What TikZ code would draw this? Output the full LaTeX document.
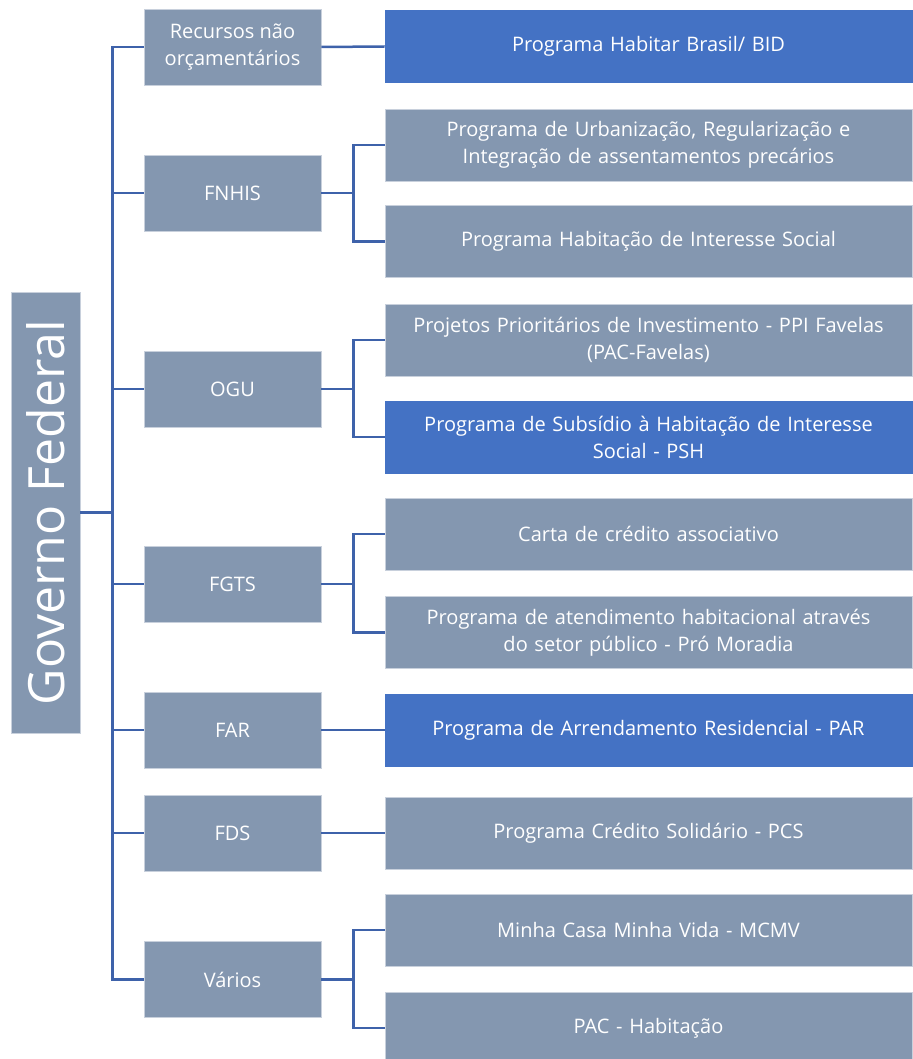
\documentclass[tikz,border=0pt]{standalone}
\usepackage{fontspec}
\setmainfont{Open Sans}
\definecolor{grayb}{HTML}{8497B0}
\definecolor{blueb}{HTML}{4472C4}
\definecolor{linec}{HTML}{3E62AA}
\definecolor{edgec}{HTML}{C8D0DC}
\begin{document}
\begin{tikzpicture}[x=1pt,y=-1pt,
  box/.style={fill=grayb,draw=edgec,line width=0.8pt,text=white,align=center,inner sep=0pt,
    font=\fontsize{20}{27}\selectfont},
  midbox/.style={box,minimum width=177pt,minimum height=76pt},
  rbox/.style={box,minimum width=527pt,minimum height=72pt,text width=515pt},
  hbox/.style={rbox,fill=blueb,draw=blueb},
  conn/.style={draw=linec,line width=2.5pt}]
\useasboundingbox (0,0) rectangle (912,1059);
\node[box,minimum width=69pt,minimum height=441pt] (gov) at (45.5,512.5)
  {\rotatebox{90}{\fontsize{50}{56}\selectfont Governo Federal}};
\node[midbox] (rec) at (232.5,47) {Recursos não\\orçamentários};
\node[midbox] (fnhis) at (232.5,193) {FNHIS};
\node[midbox] (ogu) at (232.5,389) {OGU};
\node[midbox] (fgts) at (232.5,584) {FGTS};
\node[midbox] (far) at (232.5,730) {FAR};
\node[midbox] (fds) at (232.5,833) {FDS};
\node[midbox] (var) at (232.5,979.5) {Vários};
\node[hbox] (hb) at (648.5,46.5) {Programa Habitar Brasil/ BID};
\node[rbox] (urb) at (648.5,145) {Programa de Urbanização, Regularização e\\Integração de assentamentos precários};
\node[rbox] (his) at (648.5,241.5) {Programa Habitação de Interesse Social};
\node[rbox] (ppi) at (648.5,340) {Projetos Prioritários de Investimento - PPI Favelas\\(PAC-Favelas)};
\node[hbox] (psh) at (648.5,437) {Programa de Subsídio à Habitação de Interesse\\Social - PSH};
\node[rbox] (carta) at (648.5,534) {Carta de crédito associativo};
\node[rbox] (pm) at (648.5,632.5) {Programa de atendimento habitacional através\\do setor público - Pró Moradia};
\node[hbox] (par) at (648.5,730) {Programa de Arrendamento Residencial - PAR};
\node[rbox] (pcs) at (648.5,833) {Programa Crédito Solidário - PCS};
\node[rbox] (mcmv) at (648.5,930) {Minha Casa Minha Vida - MCMV};
\node[rbox] (pac) at (648.5,1028) {PAC - Habitação};
\foreach \m in {rec,fnhis,ogu,fgts,far,fds,var}
  \draw[conn] (gov.east) -- ++(32,0) |- (\m.west);
\draw[conn] (rec.east) -- (hb.west);
\draw[conn] (far.east) -- (par.west);
\draw[conn] (fds.east) -- (pcs.west);
\foreach \m/\a/\b in {fnhis/urb/his,ogu/ppi/psh,fgts/carta/pm,var/mcmv/pac}{
  \draw[conn] (\m.east) -- ++(32,0) |- (\a.west);
  \draw[conn] (\m.east) -- ++(32,0) |- (\b.west);
}
\end{tikzpicture}
\end{document}
